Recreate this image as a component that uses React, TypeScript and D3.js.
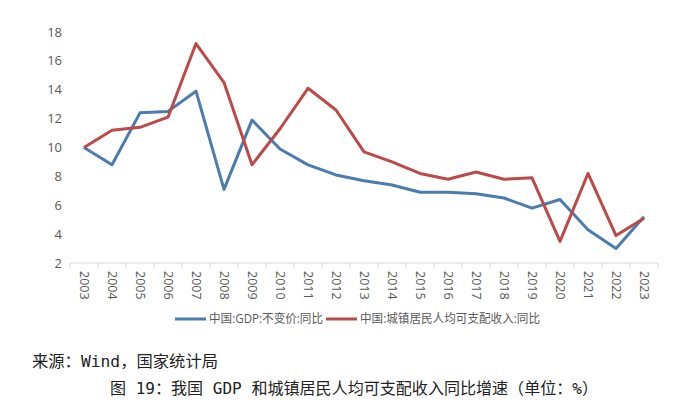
import React from "react";
import * as d3 from "d3";

const years = ["2003","2004","2005","2006","2007","2008","2009","2010","2011","2012","2013","2014","2015","2016","2017","2018","2019","2020","2021","2022","2023"];
const gdp = [10.0, 8.8, 12.4, 12.5, 13.9, 7.1, 11.9, 9.9, 8.8, 8.1, 7.7, 7.4, 6.9, 6.9, 6.8, 6.5, 5.8, 6.4, 4.3, 3.0, 5.2];
const income = [10.0, 11.2, 11.4, 12.1, 17.2, 14.5, 8.8, 11.3, 14.1, 12.6, 9.7, 9.0, 8.2, 7.8, 8.3, 7.8, 7.9, 3.5, 8.2, 3.9, 5.1];
const yTicks = [2, 4, 6, 8, 10, 12, 14, 16, 18];
const seriesNames = ["中国:GDP:不变价:同比", "中国:城镇居民人均可支配收入:同比"];
const sourceText = "来源：Wind，国家统计局";
const captionText = "图 19：我国 GDP 和城镇居民人均可支配收入同比增速（单位：%）";

const BLUE = "#4a7cae";
const RED = "#bb4a48";
const TEXT = "#595959";

export default function App() {
  const x = d3.scaleBand<string>().domain(years).range([70, 658]).padding(0);
  const y = d3.scaleLinear().domain([2, 18]).range([263, 32]);
  const cx = (i: number) => (x(years[i]) as number) + x.bandwidth() / 2;
  const line = d3
    .line<number>()
    .x((_, i) => cx(i))
    .y((d) => y(d));

  const boundaries = years.map((yr) => x(yr) as number).concat([658]);

  return (
    <svg
      width={700}
      height={415}
      style={{ position: "absolute", left: 0, top: 0, background: "#fff" }}
      fontFamily="'Open Sans', 'Noto Sans CJK SC', sans-serif"
    >
      <rect x={0} y={0} width={700} height={415} fill="#fff" />
      {/* y tick labels */}
      {yTicks.map((t) => (
        <text key={t} x={62} y={y(t)} dy="0.35em" textAnchor="end" fontSize={13} fill={TEXT}>
          {t}
        </text>
      ))}
      {/* x axis */}
      <line x1={70} x2={658} y1={263} y2={263} stroke="#d9d9d9" strokeWidth={1.2} />
      {boundaries.map((b, i) => (
        <line key={i} x1={b} x2={b} y1={263} y2={268} stroke="#d9d9d9" strokeWidth={1} />
      ))}
      {years.map((yr, i) => (
        <text
          key={yr}
          transform={`translate(${cx(i)},271) rotate(90)`}
          dy="0.35em"
          fontSize={12.5}
          fill={TEXT}
          textAnchor="start"
        >
          {yr}
        </text>
      ))}
      {/* lines */}
      <path d={line(gdp) || ""} fill="none" stroke={BLUE} strokeWidth={3} strokeLinejoin="round" />
      <path d={line(income) || ""} fill="none" stroke={RED} strokeWidth={3} strokeLinejoin="round" />
      {/* legend */}
      <line x1={175} x2={206} y1={319} y2={319} stroke={BLUE} strokeWidth={3} />
      <text x={209} y={319} dy="0.35em" fontSize={12} fill={TEXT} textLength={114} lengthAdjust="spacingAndGlyphs">
        {seriesNames[0]}
      </text>
      <line x1={326} x2={357} y1={319} y2={319} stroke={RED} strokeWidth={3} />
      <text x={360} y={319} dy="0.35em" fontSize={12} fill={TEXT} textLength={180} lengthAdjust="spacingAndGlyphs">
        {seriesNames[1]}
      </text>
      {/* source & caption */}
      <text
        x={32}
        y={361}
        dy="0.35em"
        fontSize={16}
        fill="#222"
        fontFamily="'DejaVu Sans Mono', 'Noto Sans CJK SC', monospace"
        textLength={186}
        lengthAdjust="spacingAndGlyphs"
      >
        {sourceText}
      </text>
      <text
        x={110}
        y={388}
        dy="0.35em"
        fontSize={16}
        fill="#222"
        fontFamily="'DejaVu Sans Mono', 'Noto Sans CJK SC', monospace"
        textLength={488}
        lengthAdjust="spacingAndGlyphs"
      >
        {captionText}
      </text>
    </svg>
  );
}
